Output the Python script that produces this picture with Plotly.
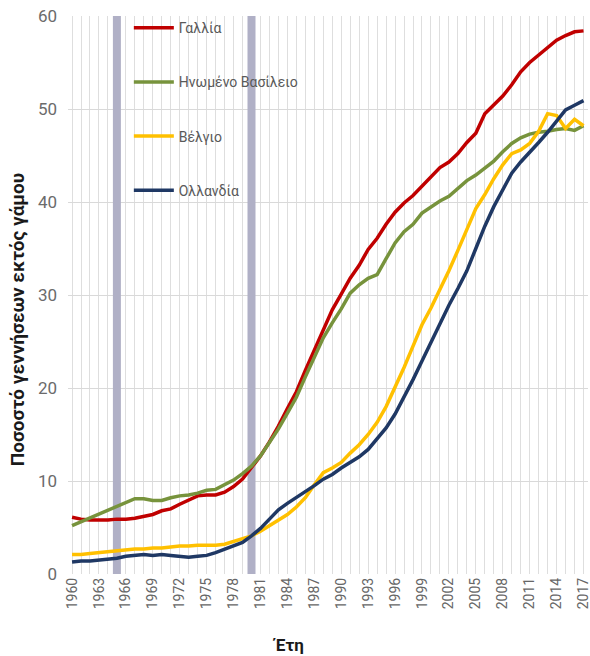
import plotly.graph_objects as go

years = list(range(1960, 2018))

france = [6.1, 5.9, 5.8, 5.8, 5.8, 5.9, 5.9, 6.0, 6.2, 6.4,
          6.8, 7.0, 7.5, 8.0, 8.4, 8.5, 8.5, 8.8, 9.4, 10.2,
          11.4, 12.7, 14.2, 15.9, 17.8, 19.6, 21.9, 24.1, 26.2, 28.4,
          30.1, 31.8, 33.2, 34.9, 36.1, 37.6, 38.9, 39.9, 40.7, 41.7,
          42.6, 43.7, 44.3, 45.2, 46.4, 47.4, 49.5, 50.5, 51.4, 52.6,
          54.0, 55.0, 55.8, 56.7, 57.4, 57.9, 58.3, 58.4]

uk = [5.2, 5.6, 6.1, 6.4, 6.8, 7.2, 7.6, 8.1, 8.1, 7.9,
      7.9, 8.2, 8.4, 8.5, 8.7, 9.0, 9.1, 9.6, 10.1, 10.8,
      11.6, 12.7, 14.1, 15.6, 17.3, 19.0, 21.2, 23.3, 25.4, 27.0,
      28.5, 30.2, 31.1, 31.8, 32.2, 33.9, 35.6, 36.8, 37.6, 38.8,
      39.5, 40.1, 40.6, 41.5, 42.3, 42.9, 43.7, 44.4, 45.4, 46.3,
      46.9, 47.3, 47.5, 47.6, 47.8, 47.9, 47.7, 48.2]

belgium = [2.1, 2.1, 2.2, 2.3, 2.4, 2.5, 2.6, 2.7, 2.7, 2.8,
           2.8, 2.9, 3.0, 3.0, 3.1, 3.1, 3.1, 3.2, 3.5, 3.8,
           4.1, 4.6, 5.2, 5.8, 6.4, 7.2, 8.2, 9.6, 10.9, 11.4,
           12.0, 13.0, 13.9, 15.0, 16.3, 18.0, 20.0, 22.2, 24.5, 26.8,
           28.6, 30.5, 32.6, 34.8, 37.1, 39.3, 40.8, 42.5, 44.0, 45.2,
           45.6, 46.3, 47.6, 49.5, 49.3, 47.9, 48.9, 48.2]

netherlands = [1.3, 1.4, 1.4, 1.5, 1.6, 1.7, 1.9, 2.0, 2.1, 2.0,
               2.1, 2.0, 1.9, 1.8, 1.9, 2.0, 2.3, 2.7, 3.0, 3.4,
               4.1, 4.9, 5.9, 6.9, 7.6, 8.2, 8.8, 9.5, 10.2, 10.7,
               11.4, 12.0, 12.6, 13.4, 14.5, 15.7, 17.2, 19.0, 20.9, 22.9,
               24.9, 27.0, 28.9, 30.7, 32.6, 35.0, 37.4, 39.5, 41.4, 43.1,
               44.3, 45.3, 46.4, 47.5, 48.7, 49.9, 50.4, 50.9]

series_names = ["Γαλλία", "Ηνωμένο Βασίλειο", "Βέλγιο", "Ολλανδία"]
series_values = [france, uk, belgium, netherlands]
series_colors = ["#c00000", "#77933c", "#ffc000", "#1f3864"]

marker_years = [1965, 1980]
tick_years = list(range(1960, 2018, 3))
y_ticks = [0, 10, 20, 30, 40, 50, 60]

FONT = "Roboto, 'Noto Sans', 'DejaVu Sans', sans-serif"

fig = go.Figure()
for i, (name, vals, col) in enumerate(zip(series_names, series_values, series_colors)):
    fig.add_trace(go.Scatter(
        x=years, y=vals, name=name, mode="lines",
        line=dict(color=col, width=3.5),
        legendgroup=f"g{i}",
    ))

for yr in marker_years:
    fig.add_shape(type="line", xref="x", yref="y", x0=yr, x1=yr, y0=0, y1=60,
                  line=dict(color="#b0b0c6", width=8), layer="between")

fig.update_layout(
    width=590, height=656,
    margin=dict(l=68, r=2, t=16, b=82, autoexpand=False),
    paper_bgcolor="white", plot_bgcolor="white",
    font=dict(family=FONT, color="#595959"),
    showlegend=True,
    legend=dict(
        x=0.117, y=1.007, xanchor="left", yanchor="top",
        bgcolor="rgba(0,0,0,0)", borderwidth=0,
        font=dict(size=14, color="#595959", family=FONT),
        traceorder="grouped", tracegroupgap=33,
        itemwidth=40,
    ),
    xaxis=dict(
        range=[1959.55, 2017.5], automargin=False, ticklabeloverflow="allow",
        tickmode="array", tickvals=tick_years, ticktext=[str(y) for y in tick_years],
        tickangle=-90, tickfont=dict(size=14, color="#666666"),
        showgrid=False,
        minor=dict(dtick=1, tick0=1960, showgrid=True, gridcolor="#dedede", gridwidth=1),
        showline=False, zeroline=False, ticks="",
    ),
    yaxis=dict(
        range=[0, 60], tickvals=y_ticks, automargin=False, ticklabeloverflow="allow",
        tickfont=dict(size=17, color="#6b6b6b"),
        showgrid=True, gridcolor="#d9d9d9", gridwidth=1,
        zeroline=False, showline=False, ticks="", ticklabelstandoff=10,
    ),
    annotations=[
        dict(text="<b>Ποσοστό γεννήσεων εκτός γάμου</b>", xref="paper", yref="paper",
             x=-0.098, y=0.455, textangle=-90, showarrow=False,
             font=dict(size=19, color="#1a1a1a", family=FONT), xanchor="center", yanchor="middle"),
        dict(text="<b>Έτη</b>", xref="paper", yref="paper",
             x=0.423, y=-0.127, showarrow=False,
             font=dict(size=17, color="#1a1a1a", family=FONT), xanchor="center", yanchor="middle"),
    ],
)

fig.write_html("out.html", config={"displayModeBar": False},
               post_script="document.body.style.margin='0';")
